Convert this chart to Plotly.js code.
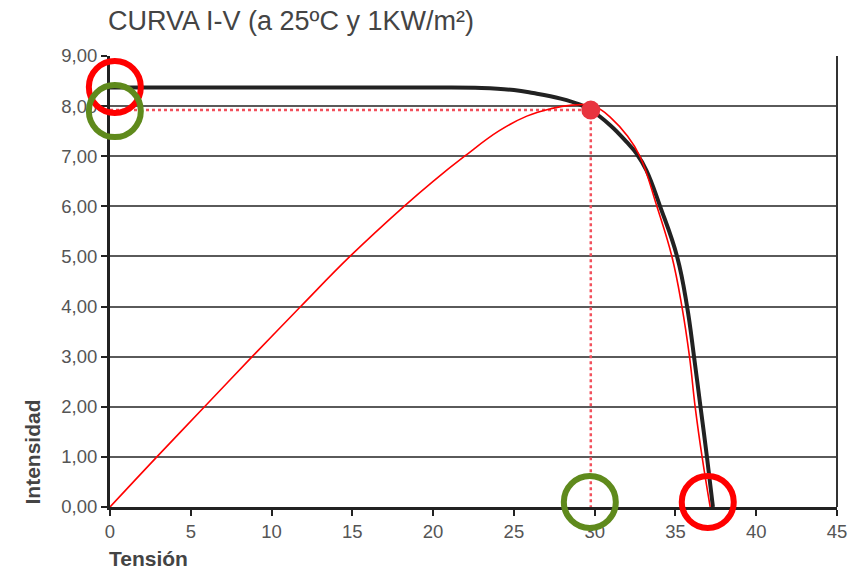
<!DOCTYPE html>
<html>
<head>
<meta charset="utf-8">
<script src="https://cdn.plot.ly/plotly-3.0.1.min.js"></script>
<style>html,body{margin:0;padding:0;background:#fff;}#chart{width:851px;height:572px;}</style>
</head>
<body>
<div id="chart"></div>
<script>
// I-V curve (black)
const ivVoltage = [0, 10, 20, 23, 25, 26.2, 27.9, 29.1, 29.76, 30.96, 31.99, 32.6, 33.2, 34.05, 35.1, 35.72, 36.15, 36.55, 36.95, 37.32];
const ivCurrent = [8.37, 8.37, 8.37, 8.36, 8.32, 8.26, 8.15, 8.03, 7.92, 7.62, 7.28, 7.05, 6.72, 6.0, 5.0, 4.0, 3.0, 2.0, 1.0, 0];
// Power curve (red, scaled)
const pvVoltage = [0, 2.9, 5.85, 8.8, 11.8, 14.85, 18.2, 20.0, 21.95, 24.05, 25.8, 27.3, 28.6, 29.76, 30.33, 30.96, 31.99, 32.8, 33.85, 34.78, 35.4, 35.87, 36.22, 36.65, 37.15];
const pvScaled = [0, 1, 2, 3, 4, 5, 6, 6.5, 7, 7.5, 7.8, 7.95, 8.02, 8.02, 7.94, 7.78, 7.42, 7.0, 6.0, 5.0, 4.0, 3.0, 2.0, 1.0, 0];
// Maximum power point
const mppVoltage = 29.76;
const mppCurrent = 7.92;
// Highlighted points (circles)
const iscPoint = [0.3, 8.38];
const impPoint = [0.3, 7.9];
const vmpPoint = [29.7, 0.1];
const vocPoint = [37.0, 0.1];
const xTicks = [0, 5, 10, 15, 20, 25, 30, 35, 40, 45];
const yTicks = [0, 1, 2, 3, 4, 5, 6, 7, 8, 9];
const xRange = [0, 45];
const yRange = [0, 9];

const font = "Liberation Sans, Arial, sans-serif";

const traces = [
  {x: [0, mppVoltage, mppVoltage], y: [mppCurrent, mppCurrent, 0], mode: 'lines',
   line: {color: '#f2505c', width: 2.5, dash: 'dot'}, hoverinfo: 'skip'},
  {x: ivVoltage, y: ivCurrent, mode: 'lines', line: {color: '#222', width: 4, shape: 'spline', smoothing: 1.2}},
  {x: pvVoltage, y: pvScaled, mode: 'lines', line: {color: '#ff0000', width: 1.6, shape: 'spline', smoothing: 1.2}},
  {x: [mppVoltage], y: [mppCurrent], mode: 'markers', marker: {color: '#e8343f', size: 19}}
];

function circ(pt, color) {
  const px = (pt[0] - xRange[0]) / (xRange[1] - xRange[0]);
  const py = (pt[1] - yRange[0]) / (yRange[1] - yRange[0]);
  return {type: 'circle', xref: 'paper', yref: 'paper', xsizemode: 'pixel', ysizemode: 'pixel',
    xanchor: px, yanchor: py, x0: -26, x1: 26, y0: -26, y1: 26,
    line: {color: color, width: 6}, layer: 'above'};
}

const layout = {
  width: 851, height: 572,
  margin: {l: 110, r: 14, t: 56, b: 65},
  paper_bgcolor: '#fff', plot_bgcolor: '#fff',
  showlegend: false,
  separators: ',.',
  font: {family: font, color: '#555', size: 17},
  xaxis: {range: xRange, tickvals: xTicks, showgrid: false, zeroline: false,
    showline: true, linecolor: '#222', linewidth: 3,
    ticks: 'outside', ticklen: 6, tickwidth: 2, tickcolor: '#222',
    tickfont: {family: font, size: 18.5, color: '#555'}, fixedrange: true},
  yaxis: {range: yRange, tickvals: yTicks, tickformat: '.2f', showgrid: true, gridcolor: '#5a5a5a', gridwidth: 2,
    zeroline: false, showline: true, linecolor: '#222', linewidth: 3,
    ticks: 'outside', ticklen: 6, tickwidth: 2, tickcolor: '#222',
    tickfont: {family: font, size: 18.5, color: '#555'}, fixedrange: true},
  shapes: [
    {type: 'line', xref: 'paper', yref: 'paper', x0: 1, x1: 1, y0: 0, y1: 1, line: {color: '#333', width: 2}},
    circ(iscPoint, '#ff0000'),
    circ(impPoint, '#5f8a1c'),
    circ(vmpPoint, '#5f8a1c'),
    circ(vocPoint, '#ff0000')
  ],
  annotations: [
    {text: 'CURVA I-V (a 25ºC y 1KW/m²)', xref: 'paper', yref: 'paper', x: -0.005, y: 1, xanchor: 'left', yanchor: 'bottom',
      yshift: 18, showarrow: false, font: {family: font, size: 27, color: '#444'}},
    {text: '<b>Tensión</b>', xref: 'paper', yref: 'paper', x: -0.004, y: 0, xanchor: 'left', yanchor: 'top',
      yshift: -38, showarrow: false, font: {family: font, size: 21, color: '#444'}},
    {text: '<b>Intensidad</b>', xref: 'paper', yref: 'paper', x: 0, y: 0, xanchor: 'center', yanchor: 'bottom',
      xshift: -78, yshift: 0, textangle: -90, showarrow: false, font: {family: font, size: 21, color: '#444'}}
  ]
};

Plotly.newPlot('chart', traces, layout, {displayModeBar: false, staticPlot: true});
</script>
</body>
</html>
